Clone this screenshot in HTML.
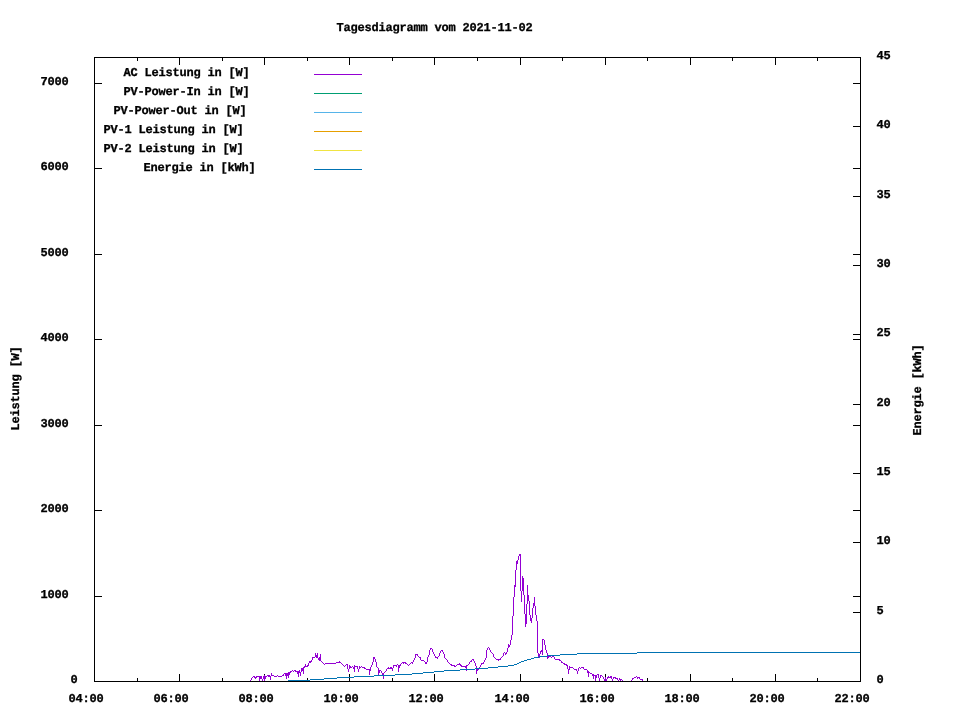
<!DOCTYPE html>
<html lang="de"><head><meta charset="utf-8"><title>Tagesdiagramm vom 2021-11-02</title>
<style>html,body{margin:0;padding:0;background:#fff}body{width:960px;height:720px;overflow:hidden}</style></head>
<body>
<svg width="960" height="720" viewBox="0 0 960 720" style="display:block">
<rect width="960" height="720" fill="#fff"/>
<g shape-rendering="crispEdges">
<path d="M94 57h1v8h-1zM94 674h1v8h-1zM137 57h1v4h-1zM137 678h1v4h-1zM179 57h1v8h-1zM179 674h1v8h-1zM222 57h1v4h-1zM222 678h1v4h-1zM264 57h1v8h-1zM264 674h1v8h-1zM307 57h1v4h-1zM307 678h1v4h-1zM349 57h1v8h-1zM349 674h1v8h-1zM392 57h1v4h-1zM392 678h1v4h-1zM434 57h1v8h-1zM434 674h1v8h-1zM477 57h1v4h-1zM477 678h1v4h-1zM520 57h1v8h-1zM520 674h1v8h-1zM562 57h1v4h-1zM562 678h1v4h-1zM605 57h1v8h-1zM605 674h1v8h-1zM647 57h1v4h-1zM647 678h1v4h-1zM690 57h1v8h-1zM690 674h1v8h-1zM732 57h1v4h-1zM732 678h1v4h-1zM775 57h1v8h-1zM775 674h1v8h-1zM817 57h1v4h-1zM817 678h1v4h-1zM860 57h1v8h-1zM860 674h1v8h-1zM94 681h8v1h-8zM853 681h8v1h-8zM94 596h8v1h-8zM853 596h8v1h-8zM94 510h8v1h-8zM853 510h8v1h-8zM94 425h8v1h-8zM853 425h8v1h-8zM94 339h8v1h-8zM853 339h8v1h-8zM94 254h8v1h-8zM853 254h8v1h-8zM94 168h8v1h-8zM853 168h8v1h-8zM94 83h8v1h-8zM853 83h8v1h-8zM853 681h8v1h-8zM853 612h8v1h-8zM853 542h8v1h-8zM853 473h8v1h-8zM853 404h8v1h-8zM853 334h8v1h-8zM853 265h8v1h-8zM853 196h8v1h-8zM853 126h8v1h-8zM853 57h8v1h-8z" fill="#000"/>
<path d="M250 680h1v1h-1zM251 678h1v2h-1zM252 677h1v1h-1zM253 676h1v1h-1zM254 676h1v2h-1zM255 677h1v2h-1zM256 676h1v2h-1zM257 676h1v1h-1zM258 676h1v1h-1zM259 676h1v5h-1zM260 676h1v3h-1zM261 676h1v3h-1zM262 679h1v2h-1zM263 676h1v3h-1zM264 675h1v6h-1zM265 676h1v3h-1zM266 676h1v1h-1zM267 675h1v1h-1zM268 675h1v2h-1zM269 675h1v2h-1zM270 676h1v4h-1zM271 673h1v3h-1zM272 675h1v1h-1zM273 675h1v1h-1zM274 676h1v1h-1zM275 676h1v1h-1zM276 676h1v1h-1zM277 675h1v1h-1zM278 676h1v1h-1zM279 676h1v1h-1zM280 676h1v1h-1zM281 676h1v1h-1zM282 675h1v1h-1zM283 674h1v2h-1zM284 673h1v1h-1zM285 673h1v3h-1zM286 673h1v6h-1zM287 673h1v3h-1zM288 672h1v6h-1zM289 672h1v3h-1zM290 671h1v2h-1zM291 671h1v1h-1zM292 670h1v1h-1zM293 671h1v1h-1zM294 670h1v1h-1zM295 670h1v2h-1zM296 671h1v1h-1zM297 671h1v3h-1zM298 671h1v6h-1zM299 670h1v3h-1zM300 672h1v4h-1zM301 668h1v4h-1zM302 668h1v3h-1zM303 667h1v7h-1zM304 666h1v2h-1zM305 664h1v3h-1zM306 666h1v1h-1zM307 665h1v2h-1zM308 663h1v3h-1zM309 661h1v2h-1zM310 661h1v2h-1zM311 660h1v2h-1zM312 657h1v3h-1zM313 657h1v1h-1zM314 657h1v1h-1zM315 653h1v4h-1zM316 655h1v3h-1zM317 653h1v5h-1zM318 658h1v2h-1zM319 657h1v4h-1zM320 654h1v7h-1zM321 661h1v1h-1zM322 662h1v1h-1zM323 663h1v1h-1zM324 664h1v1h-1zM325 663h1v1h-1zM326 663h1v1h-1zM327 663h1v1h-1zM328 663h1v1h-1zM329 663h1v1h-1zM330 663h1v1h-1zM331 663h1v1h-1zM332 663h1v1h-1zM333 663h1v1h-1zM334 663h1v1h-1zM335 663h1v1h-1zM336 662h1v1h-1zM337 662h1v1h-1zM338 662h1v1h-1zM339 661h1v2h-1zM340 662h1v1h-1zM341 663h1v1h-1zM342 664h1v1h-1zM343 665h1v1h-1zM344 666h1v1h-1zM345 665h1v1h-1zM346 664h1v1h-1zM347 664h1v5h-1zM348 669h1v3h-1zM349 665h1v4h-1zM350 666h1v2h-1zM351 667h1v1h-1zM352 666h1v1h-1zM353 667h1v2h-1zM354 665h1v7h-1zM355 666h1v1h-1zM356 666h1v1h-1zM357 666h1v3h-1zM358 669h1v3h-1zM359 666h1v3h-1zM360 667h1v1h-1zM361 666h1v1h-1zM362 667h1v1h-1zM363 667h1v1h-1zM364 667h1v2h-1zM365 668h1v1h-1zM366 669h1v1h-1zM367 669h1v1h-1zM368 669h1v1h-1zM369 669h1v6h-1zM370 667h1v4h-1zM371 665h1v2h-1zM372 662h1v3h-1zM373 657h1v5h-1zM374 657h1v2h-1zM375 659h1v3h-1zM376 662h1v5h-1zM377 667h1v1h-1zM378 668h1v7h-1zM379 670h1v3h-1zM380 670h1v1h-1zM381 671h1v2h-1zM382 673h1v2h-1zM383 673h1v6h-1zM384 672h1v1h-1zM385 671h1v1h-1zM386 669h1v2h-1zM387 668h1v1h-1zM388 667h1v2h-1zM389 668h1v1h-1zM390 667h1v2h-1zM391 667h1v2h-1zM392 668h1v3h-1zM393 665h1v3h-1zM394 665h1v1h-1zM395 665h1v1h-1zM396 665h1v2h-1zM397 664h1v1h-1zM398 665h1v7h-1zM399 665h1v3h-1zM400 664h1v2h-1zM401 663h1v1h-1zM402 662h1v1h-1zM403 662h1v2h-1zM404 662h1v1h-1zM405 662h1v2h-1zM406 663h1v1h-1zM407 664h1v1h-1zM408 665h1v1h-1zM409 664h1v1h-1zM410 663h1v1h-1zM411 662h1v1h-1zM412 662h1v2h-1zM413 660h1v2h-1zM414 658h1v2h-1zM415 654h1v4h-1zM416 654h1v1h-1zM417 654h1v2h-1zM418 656h1v1h-1zM419 657h1v1h-1zM420 657h1v3h-1zM421 660h1v1h-1zM422 660h1v1h-1zM423 660h1v1h-1zM424 661h1v1h-1zM425 662h1v2h-1zM426 662h1v2h-1zM427 657h1v5h-1zM428 655h1v2h-1zM429 650h1v5h-1zM430 648h1v2h-1zM431 648h1v1h-1zM432 649h1v3h-1zM433 652h1v2h-1zM434 654h1v2h-1zM435 656h1v2h-1zM436 657h1v1h-1zM437 657h1v2h-1zM438 656h1v1h-1zM439 653h1v3h-1zM440 651h1v2h-1zM441 650h1v1h-1zM442 650h1v2h-1zM443 652h1v2h-1zM444 654h1v4h-1zM445 658h1v1h-1zM446 659h1v1h-1zM447 660h1v2h-1zM448 662h1v1h-1zM449 663h1v1h-1zM450 664h1v1h-1zM451 664h1v2h-1zM452 665h1v1h-1zM453 665h1v1h-1zM454 665h1v2h-1zM455 666h1v1h-1zM456 665h1v1h-1zM457 664h1v1h-1zM458 664h1v1h-1zM459 663h1v2h-1zM460 664h1v2h-1zM461 665h1v2h-1zM462 666h1v1h-1zM463 666h1v1h-1zM464 666h1v1h-1zM465 666h1v2h-1zM466 665h1v6h-1zM467 665h1v1h-1zM468 664h1v1h-1zM469 662h1v2h-1zM470 661h1v1h-1zM471 660h1v2h-1zM472 659h1v1h-1zM473 659h1v2h-1zM474 661h1v2h-1zM475 663h1v3h-1zM476 666h1v8h-1zM477 669h1v2h-1zM478 668h1v2h-1zM479 667h1v1h-1zM480 665h1v2h-1zM481 663h1v2h-1zM482 663h1v1h-1zM483 662h1v2h-1zM484 660h1v2h-1zM485 658h1v2h-1zM486 650h1v8h-1zM487 648h1v2h-1zM488 647h1v1h-1zM489 648h1v2h-1zM490 650h1v2h-1zM491 652h1v1h-1zM492 653h1v1h-1zM493 654h1v3h-1zM494 657h1v1h-1zM495 658h1v1h-1zM496 659h1v1h-1zM497 659h1v1h-1zM498 659h1v2h-1zM499 659h1v1h-1zM500 658h1v2h-1zM501 657h1v1h-1zM502 656h1v1h-1zM503 653h1v3h-1zM504 652h1v1h-1zM505 653h1v2h-1zM506 652h1v2h-1zM507 648h1v4h-1zM508 644h1v4h-1zM509 645h1v2h-1zM510 640h1v5h-1zM511 635h1v5h-1zM512 616h1v19h-1zM513 597h1v19h-1zM514 585h1v12h-1zM515 570h1v17h-1zM516 561h1v9h-1zM517 560h1v4h-1zM518 556h1v4h-1zM519 554h1v2h-1zM520 554h1v37h-1zM521 591h1v11h-1zM522 576h1v15h-1zM523 578h1v17h-1zM524 595h1v19h-1zM525 614h1v13h-1zM526 604h1v20h-1zM527 585h1v19h-1zM528 595h1v6h-1zM529 601h1v14h-1zM530 615h1v6h-1zM531 618h1v5h-1zM532 608h1v10h-1zM533 603h1v5h-1zM534 597h1v9h-1zM535 606h1v9h-1zM536 615h1v6h-1zM537 621h1v32h-1zM538 653h1v4h-1zM539 654h1v4h-1zM540 651h1v3h-1zM541 650h1v2h-1zM542 639h1v16h-1zM543 639h1v1h-1zM544 640h1v5h-1zM545 645h1v5h-1zM546 650h1v3h-1zM547 653h1v6h-1zM548 656h1v2h-1zM549 656h1v1h-1zM550 656h1v1h-1zM551 657h1v1h-1zM552 656h1v1h-1zM553 656h1v1h-1zM554 657h1v2h-1zM555 659h1v1h-1zM556 659h1v1h-1zM557 659h1v1h-1zM558 659h1v1h-1zM559 659h1v2h-1zM560 660h1v1h-1zM561 661h1v2h-1zM562 662h1v1h-1zM563 663h1v1h-1zM564 663h1v2h-1zM565 664h1v1h-1zM566 664h1v2h-1zM567 665h1v4h-1zM568 669h1v5h-1zM569 666h1v4h-1zM570 667h1v1h-1zM571 667h1v1h-1zM572 667h1v1h-1zM573 668h1v1h-1zM574 669h1v1h-1zM575 669h1v1h-1zM576 669h1v2h-1zM577 671h1v3h-1zM578 668h1v3h-1zM579 667h1v1h-1zM580 668h1v1h-1zM581 667h1v1h-1zM582 667h1v1h-1zM583 667h1v2h-1zM584 669h1v1h-1zM585 669h1v1h-1zM586 669h1v1h-1zM587 670h1v3h-1zM588 671h1v6h-1zM589 672h1v1h-1zM590 673h1v1h-1zM591 673h1v1h-1zM592 674h1v2h-1zM593 674h1v5h-1zM594 675h1v1h-1zM595 675h1v6h-1zM596 675h1v3h-1zM597 674h1v1h-1zM598 674h1v4h-1zM599 678h1v3h-1zM600 675h1v3h-1zM601 675h1v1h-1zM602 676h1v1h-1zM603 677h1v2h-1zM604 679h1v2h-1zM605 677h1v4h-1zM606 679h1v2h-1zM607 677h1v2h-1zM608 676h1v2h-1zM609 677h1v1h-1zM610 676h1v2h-1zM611 676h1v3h-1zM612 679h1v2h-1zM613 677h1v2h-1zM614 677h1v1h-1zM615 677h1v2h-1zM616 678h1v1h-1zM617 678h1v2h-1zM618 680h1v1h-1zM619 678h1v2h-1zM620 679h1v2h-1zM621 679h1v1h-1zM622 680h1v1h-1zM631 680h1v1h-1zM632 678h1v2h-1zM633 678h1v1h-1zM634 677h1v1h-1zM635 677h1v1h-1zM636 676h1v1h-1zM637 677h1v2h-1zM638 677h1v1h-1zM639 677h1v2h-1zM640 679h1v1h-1zM641 679h1v1h-1zM642 679h1v2h-1z" fill="#9400d3"/>
<path d="M288 680h22v1h-22zM310 679h14v1h-14zM324 678h13v1h-13zM337 677h17v1h-17zM354 676h20v1h-20zM374 675h21v1h-21zM395 674h17v1h-17zM412 673h11v1h-11zM423 672h11v1h-11zM434 671h10v1h-10zM444 670h16v1h-16zM460 669h15v1h-15zM475 668h13v1h-13zM488 667h10v1h-10zM498 666h10v1h-10zM508 665h6v1h-6zM514 664h3v1h-3zM517 663h2v1h-2zM519 662h2v1h-2zM521 661h3v1h-3zM524 660h3v1h-3zM527 659h4v1h-4zM531 658h3v1h-3zM534 657h5v1h-5zM539 656h8v1h-8zM547 655h13v1h-13zM560 654h17v1h-17zM577 653h60v1h-60zM637 652h224v1h-224z" fill="#0072b2"/>
<rect x="314" y="74" width="48" height="1" fill="#9400d3"/>
<rect x="314" y="93" width="48" height="1" fill="#009e73"/>
<rect x="314" y="112" width="48" height="1" fill="#56b4e9"/>
<rect x="314" y="131" width="48" height="1" fill="#e69f00"/>
<rect x="314" y="150" width="48" height="1" fill="#f0e442"/>
<rect x="314" y="169" width="48" height="1" fill="#0072b2"/>
<path d="M94 57h767v1h-767zM94 681h767v1h-767zM94 57h1v625h-1zM860 57h1v625h-1z" fill="#000"/>
</g>
<g font-family="Liberation Mono, monospace" font-weight="bold" font-size="12" stroke="#000" stroke-width="0.3" text-rendering="geometricPrecision" fill="#000" style="white-space:pre">
<text transform="translate(336.5 31) scale(1 1)" x="0 7 14 21 28 35 42 49 56 63 70 77 84 91 98 105 112 119 126 133 140 147 154 161 168 175 182 189" y="0">Tagesdiagramm vom 2021-11-02</text>
<text transform="translate(123.5 76) scale(1 1)" x="0 7 14 21 28 35 42 49 56 63 70 77 84 91 98 105 112 119" y="0">AC Leistung in [W]</text>
<text transform="translate(123.5 95) scale(1 1)" x="0 7 14 21 28 35 42 49 56 63 70 77 84 91 98 105 112 119" y="0">PV-Power-In in [W]</text>
<text transform="translate(113.5 114) scale(1 1)" x="0 7 14 21 28 35 42 49 56 63 70 77 84 91 98 105 112 119 126" y="0">PV-Power-Out in [W]</text>
<text transform="translate(103.5 133) scale(1 1)" x="0 7 14 21 28 35 42 49 56 63 70 77 84 91 98 105 112 119 126 133" y="0">PV-1 Leistung in [W]</text>
<text transform="translate(103.5 152) scale(1 1)" x="0 7 14 21 28 35 42 49 56 63 70 77 84 91 98 105 112 119 126 133" y="0">PV-2 Leistung in [W]</text>
<text transform="translate(143.5 171) scale(1 1)" x="0 7 14 21 28 35 42 49 56 63 70 77 84 91 98 105" y="0">Energie in [kWh]</text>
<text transform="translate(70.5 683) scale(1 1)" x="0" y="0">0</text>
<text transform="translate(40.5 598) scale(1 1)" x="0 7 14 21" y="0">1000</text>
<text transform="translate(40.5 512) scale(1 1)" x="0 7 14 21" y="0">2000</text>
<text transform="translate(40.5 427) scale(1 1)" x="0 7 14 21" y="0">3000</text>
<text transform="translate(40.5 341) scale(1 1)" x="0 7 14 21" y="0">4000</text>
<text transform="translate(40.5 256) scale(1 1)" x="0 7 14 21" y="0">5000</text>
<text transform="translate(40.5 170) scale(1 1)" x="0 7 14 21" y="0">6000</text>
<text transform="translate(40.5 85) scale(1 1)" x="0 7 14 21" y="0">7000</text>
<text transform="translate(876.5 683) scale(1 1)" x="0" y="0">0</text>
<text transform="translate(876.5 614) scale(1 1)" x="0" y="0">5</text>
<text transform="translate(876.5 544) scale(1 1)" x="0 7" y="0">10</text>
<text transform="translate(876.5 475) scale(1 1)" x="0 7" y="0">15</text>
<text transform="translate(876.5 406) scale(1 1)" x="0 7" y="0">20</text>
<text transform="translate(876.5 336) scale(1 1)" x="0 7" y="0">25</text>
<text transform="translate(876.5 267) scale(1 1)" x="0 7" y="0">30</text>
<text transform="translate(876.5 198) scale(1 1)" x="0 7" y="0">35</text>
<text transform="translate(876.5 128) scale(1 1)" x="0 7" y="0">40</text>
<text transform="translate(876.5 59) scale(1 1)" x="0 7" y="0">45</text>
<text transform="translate(68.5 702) scale(1 1)" x="0 7 14 21 28" y="0">04:00</text>
<text transform="translate(153.5 702) scale(1 1)" x="0 7 14 21 28" y="0">06:00</text>
<text transform="translate(238.5 702) scale(1 1)" x="0 7 14 21 28" y="0">08:00</text>
<text transform="translate(323.5 702) scale(1 1)" x="0 7 14 21 28" y="0">10:00</text>
<text transform="translate(408.5 702) scale(1 1)" x="0 7 14 21 28" y="0">12:00</text>
<text transform="translate(494.5 702) scale(1 1)" x="0 7 14 21 28" y="0">14:00</text>
<text transform="translate(579.5 702) scale(1 1)" x="0 7 14 21 28" y="0">16:00</text>
<text transform="translate(664.5 702) scale(1 1)" x="0 7 14 21 28" y="0">18:00</text>
<text transform="translate(749.5 702) scale(1 1)" x="0 7 14 21 28" y="0">20:00</text>
<text transform="translate(834.5 702) scale(1 1)" x="0 7 14 21 28" y="0">22:00</text>
<text transform="translate(19 430.5) rotate(-90) scale(1 1)" x="0 7 14 21 28 35 42 49 56 63 70 77" y="0">Leistung [W]</text>
<text transform="translate(921 435.5) rotate(-90) scale(1 1)" x="0 7 14 21 28 35 42 49 56 63 70 77 84" y="0">Energie [kWh]</text>
</g></svg>
</body></html>
